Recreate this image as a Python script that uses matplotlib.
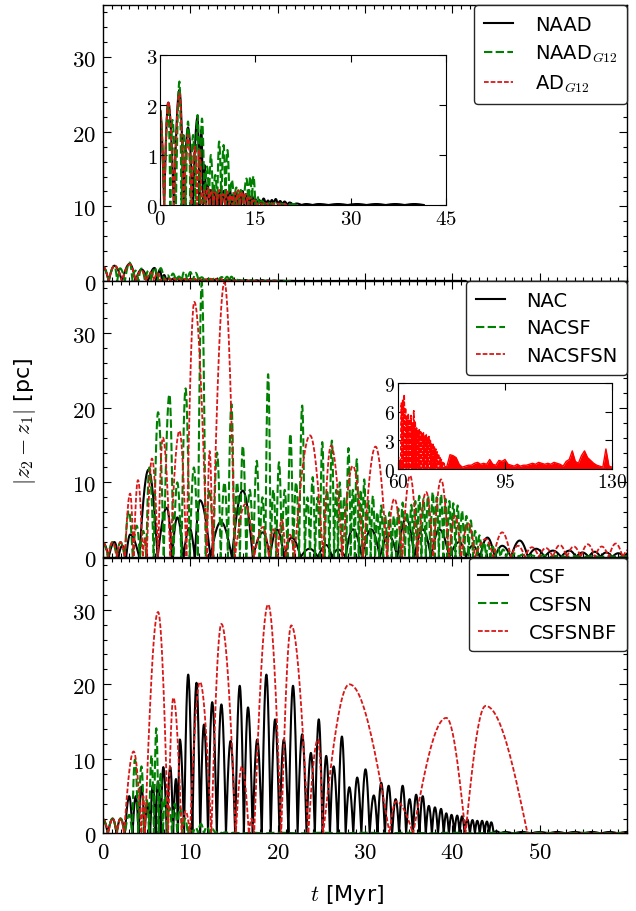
import numpy as np
import matplotlib
matplotlib.use('Agg')
import matplotlib.pyplot as plt
from matplotlib.ticker import MultipleLocator, FixedLocator, FuncFormatter

plt.rcParams['mathtext.fontset'] = 'cm'
plt.rcParams['font.family'] = ['DejaVu Sans']

# ---------------- panel 1 : NAAD, NAAD_G12, AD_G12 (peak times / heights) ----------------
naad_t = [0.0, 1.3, 3.05, 4.4, 5.9, 6.5, 7.0, 7.5, 8.0, 8.5, 9.0, 9.5, 10.0, 10.5, 11.0, 11.5,
          12.0, 12.5, 13.0, 13.5, 14.0, 14.5, 15.0, 15.6, 16.3, 17.0, 17.6, 18.2, 18.9, 19.6,
          20.4, 21.5, 23.0, 25.0, 28.0, 31.0, 34.0, 37.0, 40.0]
naad_v = [1.9, 2.05, 2.3, 1.55, 1.75, 1.5, 0.8, 0.4, 0.3, 0.35, 0.25, 0.3, 0.28, 0.22, 0.3, 0.2,
          0.25, 0.2, 0.28, 0.22, 0.2, 0.18, 0.12, 0.1, 0.13, 0.09, 0.1, 0.12, 0.08, 0.07,
          0.05, 0.03, 0.02, 0.02, 0.02, 0.02, 0.02, 0.02, 0.02]

naadg_t = [0.0, 1.3, 1.95, 3.05, 3.7, 4.4, 5.2, 5.9, 6.6, 7.4, 8.0, 8.7, 9.3, 10.0, 10.6, 11.3,
           12.0, 12.7, 13.6, 14.2, 14.7, 15.3, 16.0, 17, 18, 19, 20, 21]
naadg_v = [1.9, 2.0, 1.7, 2.47, 1.4, 1.67, 1.4, 1.8, 1.73, 0.77, 1.0, 0.6, 1.27, 1.2, 1.1, 0.5,
           0.35, 0.3, 0.53, 0.57, 0.58, 0.17, 0.08, 0.05, 0.04, 0.03, 0.02, 0.02]

adg_t = [0.0, 1.3, 3.05, 4.4, 5.5, 6.2, 6.9, 7.5, 8.1, 8.7, 9.3, 9.9, 10.5, 11.1, 11.7, 12.3,
         12.9, 13.5, 14.1, 14.8, 15.6, 16.5, 17.5, 18.5, 19.5]
adg_v = [1.9, 2.07, 2.23, 1.4, 1.17, 1.1, 0.3, 0.35, 0.3, 0.25, 0.3, 0.22, 0.28, 0.2, 0.25, 0.3,
         0.27, 0.22, 0.15, 0.1, 0.05, 0.04, 0.03, 0.03, 0.02]

# ---------------- panel 2 : NAC, NACSF, NACSFSN ----------------
nac_t = [0.0, 1.3, 2.2, 3.1, 5.2, 7.3, 8.5, 9.9, 11.1, 13.5, 16.0, 18.3, 19.9, 21.6, 23.65,
         25.55, 26.9, 28.6, 30.7, 32.7, 34.7, 36.6, 38.5, 40.8, 42.3, 44.0, 45.7, 47.7, 49.6,
         51.5, 53.4, 54.9, 56.3, 57.6, 59.0, 60.3]
nac_v = [1.9, 2.0, 1.5, 3.0, 11.7, 6.6, 5.3, 3.9, 7.6, 4.7, 8.9, 3.3, 3.7, 2.6, 1.1,
         1.6, 1.0, 3.7, 3.7, 2.9, 5.2, 3.7, 3.7, 2.0, 1.5, 2.6, 1.5, 2.2, 1.1,
         0.85, 0.85, 0.6, 0.7, 0.6, 0.5, 0.6]

nacsf_t = [0.0, 1.1, 2.0, 2.95, 3.85, 4.6, 5.3, 6.3, 7.6, 8.5,
           9.45, 10.4, 11.3, 12.2, 13.05, 13.9, 14.7, 15.35, 16.0, 16.8,
           17.6, 18.25, 18.9, 19.5, 20.15, 20.8, 21.45, 22.1, 22.8, 23.4,
           24.0, 24.55, 25.1, 25.65, 26.2, 26.7, 27.1, 27.6, 28.1, 28.6,
           29.05, 29.5, 29.9, 30.4, 30.9, 31.4, 31.85, 32.3, 32.8, 33.3,
           33.8, 34.3, 34.8, 35.3, 35.75, 36.2, 36.7, 37.2, 37.75, 38.2,
           38.7, 39.2, 39.65, 40.1, 40.6, 41.1, 41.6, 42.1, 42.6, 43.1,
           43.6, 44.1, 44.6, 45.2, 45.8, 46.5, 47.2, 48.0, 49.0, 50.5,
           52.0, 54.0, 56.0, 58.0, 60.0]
nacsf_v = [1.9, 2.0, 2.0, 6.2, 4.2, 3.5, 12.0, 19.4, 21.8, 10.0,
           22.6, 12.0, 36.8, 9.0, 14.0, 10.0, 20.5, 10.0, 14.9, 9.0,
           12.9, 8.0, 24.5, 9.0, 12.7, 9.0, 16.5, 10.0, 20.3, 8.0,
           10.7, 8.0, 15.4, 9.0, 15.6, 9.0, 10.0, 8.0, 14.6, 9.0,
           13.1, 9.0, 10.4, 7.5, 8.2, 6.0, 6.9, 5.5, 6.0, 5.5,
           6.5, 7.3, 6.0, 7.0, 7.5, 8.2, 7.8, 8.2, 8.7, 8.0,
           8.4, 7.8, 7.5, 7.2, 6.9, 6.2, 5.5, 4.9, 3.5, 2.9,
           2.0, 1.7, 1.4, 1.2, 1.0, 0.7, 0.5, 0.3, 0.2, 0.2,
           0.15, 0.1, 0.1, 0.1, 0.1]

nacsfsn_z = [-0.5, 0.6, 1.6, 2.5, 3.5, 4.55, 5.0, 6.3, 7.7, 9.55,
             11.9, 12.55, 15.1, 17.3, 19.0, 20.0, 20.9, 21.9, 25.2, 27.4,
             29.8, 32.5, 34.25, 36.0, 37.8, 39.6, 41.0, 42.6, 44.7, 46.7,
             48.3, 49.9, 51.5, 53.1, 54.7, 56.3, 57.9, 59.5, 61.0]
nacsfsn_t = [0.0, 1.1, 2.0, 3.1, 4.0, 4.8, 5.6, 6.85, 8.75, 10.45,
             12.2, 13.9, 16.3, 18.3, 19.5, 20.45, 21.4, 23.7, 26.1, 28.6,
             31.2, 33.35, 35.15, 37.0, 38.7, 40.3, 41.8, 43.8, 45.7, 47.5,
             49.1, 50.7, 52.3, 53.9, 55.5, 57.1, 58.7, 60.2]
nacsfsn_v = [1.9, 2.0, 2.0, 8.5, 10.3, 2.5, 13.2, 16.0, 16.9, 34.2,
             14.2, 36.8, 7.1, 4.0, 3.7, 5.0, 3.0, 16.3, 14.9, 12.2,
             14.8, 7.8, 10.9, 8.7, 10.4, 5.5, 4.5, 2.4, 3.3, 1.5,
             1.3, 1.2, 1.6, 1.4, 1.7, 1.4, 1.8, 1.0]

# inset of panel 2: NACSFSN for t = 60-130 Myr
late_t = [60.2, 60.65, 61.1, 61.55, 62.0, 62.45, 62.9, 63.35, 63.8, 64.25,
          64.7, 65.15, 65.6, 66.05, 66.5, 66.95, 67.4, 67.85, 68.3, 68.75,
          69.2, 69.65, 70.1, 70.55, 71.0, 71.45, 71.9, 72.35, 72.8, 73.25,
          73.7, 74.15, 74.6, 75.05, 75.5, 75.95]
late_v = [1.2, 0.8, 6.9, 7.2, 7.8, 6.4, 5.5, 5.8, 5.2, 5.6,
          4.8, 6.1, 5.0, 4.3, 4.0, 4.2, 3.9, 3.7, 3.8, 3.5,
          3.6, 3.3, 3.4, 3.0, 2.6, 2.7, 2.3, 2.1, 1.8, 1.6,
          1.2, 1.0, 0.7, 0.6, 0.4, 0.3]
noise_t = [76, 77, 78, 79, 80, 81, 82, 83, 84, 85, 86, 87, 88, 89, 90, 91, 92, 93, 94, 95,
           96, 97, 98, 99, 100, 101, 102, 103, 104, 105, 106, 107, 108, 109, 110, 111, 112,
           113, 114, 115, 116, 117, 118, 119, 120, 121, 122, 123, 124, 125, 126, 127, 128,
           129, 130]
noise_v = [0.3, 1.5, 1.4, 1.2, 0.5, 0.2, 0.3, 0.4, 0.4, 0.6, 0.7, 0.5, 0.6, 0.5, 1.0, 0.5,
           0.4, 0.9, 0.8, 1.0, 0.5, 0.4, 0.3, 0.5, 0.3, 0.4, 0.4, 0.5, 0.6, 0.5, 0.7, 0.6,
           0.5, 0.6, 0.5, 0.7, 0.6, 0.5, 0.3, 0.8, 1.0, 1.9, 0.8, 0.6, 1.4, 1.9, 1.2, 0.9,
           0.6, 0.4, 0.3, 0.2, 2.1, 0.3, 0.2]

# ---------------- panel 3 : CSF, CSFSN, CSFSNBF ----------------
csf_t = [0.0, 1.1, 2.0, 3.0, 3.75, 4.4, 5.1, 5.7, 6.3, 6.9,
         7.7, 8.35, 8.8, 9.75, 10.7, 11.55, 12.5, 13.55, 14.6, 15.65,
         16.6, 17.65, 18.7, 19.7, 20.7, 21.75, 22.8, 23.8, 24.7, 25.55,
         26.4, 27.35, 28.2, 29.1, 30.05, 31.0, 31.85, 32.7, 33.5, 34.3,
         35.1, 35.85, 36.6, 37.3, 38.0, 38.7, 39.3, 39.9, 40.55, 41.1,
         41.7, 42.3, 42.85, 43.4, 43.95, 44.45, 45.0, 46.0, 48.0, 50.0,
         52.0, 54.0, 56.0, 58.0, 60.0]
csf_v = [1.9, 2.0, 2.0, 5.0, 5.0, 6.3, 4.0, 6.5, 7.0, 8.9,
         8.9, 7.3, 12.6, 21.3, 20.2, 14.6, 17.6, 17.3, 12.4, 19.8,
         16.9, 12.6, 21.3, 15.3, 12.6, 19.8, 13.3, 10.8, 15.3, 10.4,
         9.0, 13.0, 6.2, 7.5, 8.6, 5.1, 6.8, 6.4, 4.6, 6.4,
         4.6, 5.2, 5.0, 3.7, 3.5, 3.3, 2.7, 2.5, 2.4, 2.3,
         1.9, 1.8, 1.7, 1.7, 1.6, 1.5, 0.3, 0.2, 0.2, 0.2,
         0.2, 0.2, 0.2, 0.2, 0.2]

csfsn_t = [0.0, 1.1, 2.0, 3.0, 3.65, 4.4, 5.0, 5.55, 6.1, 6.6,
           7.1, 7.6, 8.2, 8.8, 9.4, 10.0, 10.6, 11.2, 11.9, 12.5,
           13.2, 14.0, 15.0, 17.0, 20.0, 25.0, 30.0, 35.0, 40.0, 45.0,
           50.0, 55.0, 60.0]
csfsn_v = [1.9, 2.0, 2.0, 2.5, 9.9, 9.0, 4.5, 10.5, 14.1, 8.0,
           5.0, 3.5, 4.0, 3.5, 2.0, 1.0, 0.8, 1.3, 0.9, 0.6,
           0.3, 0.15, 0.1, 0.1, 0.1, 0.1, 0.1, 0.1, 0.1, 0.1,
           0.1, 0.1, 0.1]

csfsnbf_z = [-0.5, 0.6, 1.6, 2.4, 4.4, 4.8, 7.45, 9.0, 9.95, 12.4,
             15.2, 16.7, 17.3, 20.4, 23.5, 25.2, 32.8, 35.5, 41.5, 48.6, 60.0]
csfsnbf_t = [0.0, 1.1, 2.0, 3.5, 4.6, 6.3, 8.05, 9.45, 11.1, 13.55,
             15.9, 17.0, 18.9, 21.55, 24.6, 28.2, 33.55, 39.3, 43.8, 54.0]
csfsnbf_v = [1.9, 2.0, 2.0, 11.0, 5.0, 29.7, 18.2, 3.0, 20.3, 28.1,
             9.0, 2.0, 30.7, 27.9, 12.6, 20.0, 4.3, 15.5, 17.1, 0.0]


def lobes(peak_t, peak_v, zeros=None, n=25):
    # |z2 - z1| oscillates: one arch per peak, touching zero in between
    peak_t = np.asarray(peak_t, float)
    peak_v = np.asarray(peak_v, float)
    if zeros is None:
        mid = (peak_t[1:] + peak_t[:-1]) / 2
        zeros = np.concatenate([[peak_t[0] - (peak_t[1] - peak_t[0]) / 2], mid,
                                [peak_t[-1] + (peak_t[-1] - peak_t[-2]) / 2]])
    zeros = np.asarray(zeros, float)
    u = np.linspace(0, 1, n)
    ts, vs = [], []
    for k in range(len(peak_t)):
        a, p, b, h = zeros[k], peak_t[k], zeros[k + 1], peak_v[k]
        ts.append(a + (p - a) * u)
        vs.append(h * np.sin(np.pi / 2 * u))
        ts.append(p + (b - p) * u[1:])
        vs.append(h * np.cos(np.pi / 2 * u[1:]))
    return np.concatenate(ts), np.concatenate(vs)


GREEN = 'g'
RED = '#d81818'
GREEN_LS = (0, (4.0, 1.6))
RED_LS = (0, (2.6, 1.1))
mathfmt = FuncFormatter(lambda v, p: r'$%d$' % v)

fig = plt.figure(figsize=(6.36, 9.12), dpi=100)
left, width, height = 0.162, 0.824, 0.3026
bottoms = [0.6908, 0.3882, 0.0850]
axes = [fig.add_axes([left, b, width, height]) for b in bottoms]


def style_main(ax, show_x):
    ax.set_xlim(0, 60)
    ax.set_ylim(0, 37)
    ax.xaxis.set_major_locator(FixedLocator([0, 10, 20, 30, 40, 50]))
    ax.xaxis.set_minor_locator(MultipleLocator(1))
    ax.yaxis.set_major_locator(FixedLocator([0, 10, 20, 30]))
    ax.yaxis.set_minor_locator(MultipleLocator(2))
    ax.xaxis.set_major_formatter(mathfmt)
    ax.yaxis.set_major_formatter(mathfmt)
    ax.tick_params(which='both', direction='in', top=True, right=True, width=0.8)
    ax.tick_params(which='major', length=6, labelsize=16.5, pad=5)
    ax.tick_params(which='minor', length=3)
    ax.tick_params(axis='x', labelbottom=show_x)
    for s in ax.spines.values():
        s.set_linewidth(1.0)


def style_inset(ax, xt, yt, size):
    ax.set_xticks(xt)
    ax.set_yticks(yt)
    ax.set_xlim(xt[0], xt[-1])
    ax.set_ylim(yt[0], yt[-1])
    ax.xaxis.set_major_formatter(mathfmt)
    ax.yaxis.set_major_formatter(mathfmt)
    ax.tick_params(direction='in', top=True, right=True, length=5, width=0.8,
                   labelsize=size, pad=2)


def legend(ax):
    lg = ax.legend(loc='upper right', borderaxespad=0.0, fontsize=14, handlelength=1.5,
                   handletextpad=1.1, borderpad=0.5, labelspacing=0.45, fancybox=True,
                   framealpha=1.0)
    lg.get_frame().set_edgecolor('0.15')
    lg.get_frame().set_linewidth(1.0)


# panel 1
ax = axes[0]
series1 = [(naad_t, naad_v, 'k', '-', 1.5, 'NAAD'),
           (naadg_t, naadg_v, GREEN, GREEN_LS, 1.5, r'NAAD$_{G12}$'),
           (adg_t, adg_v, RED, RED_LS, 1.3, r'AD$_{G12}$')]
for t, v, c, ls, lw, lab in series1:
    x, y = lobes(t, v)
    ax.plot(x, y, color=c, ls=ls, lw=lw, label=lab)
style_main(ax, False)
legend(ax)

ins1 = fig.add_axes([0.2516, 0.7741, 0.4497, 0.1645])
for t, v, c, ls, lw, lab in series1:
    x, y = lobes(t, v)
    ins1.plot(x, y, color=c, ls=ls, lw=lw)
style_inset(ins1, [0, 15, 30, 45], [0, 1, 2, 3], 15)

# panel 2
ax = axes[1]
x, y = lobes(nac_t, nac_v)
ax.plot(x, y, color='k', lw=1.5, label='NAC')
x, y = lobes(nacsf_t, nacsf_v)
ax.plot(x, y, color=GREEN, ls=GREEN_LS, lw=1.5, label='NACSF')
x, y = lobes(nacsfsn_t, nacsfsn_v, nacsfsn_z)
ax.plot(x, y, color=RED, ls=RED_LS, lw=1.3, label='NACSFSN')
style_main(ax, False)
legend(ax)

ins2 = fig.add_axes([0.6258, 0.4846, 0.3365, 0.0943])
x, y = lobes(late_t, late_v)
ins2.plot(x, y, color='r', ls=RED_LS, lw=1.2)
ins2.fill_between(noise_t, 0, noise_v, color='r', lw=0)
ins2.plot(noise_t, noise_v, color='r', lw=1.0)
style_inset(ins2, [60, 95, 130], [0, 3, 6, 9], 14)

# panel 3
ax = axes[2]
x, y = lobes(csf_t, csf_v)
ax.plot(x, y, color='k', lw=1.5, label='CSF')
x, y = lobes(csfsn_t, csfsn_v)
ax.plot(x, y, color=GREEN, ls=GREEN_LS, lw=1.5, label='CSFSN')
x, y = lobes(csfsnbf_t, csfsnbf_v, csfsnbf_z)
ax.plot(x, y, color=RED, ls=RED_LS, lw=1.3, label='CSFSNBF')
style_main(ax, True)
legend(ax)

fig.text(0.039, 0.538, r'$|z_2 - z_1|$ [pc]', rotation=90, ha='center', va='center',
         fontsize=16)
fig.text(0.546, 0.019, r'$t$ [Myr]', ha='center', va='center', fontsize=16)

fig.savefig('out.png', dpi=100)
